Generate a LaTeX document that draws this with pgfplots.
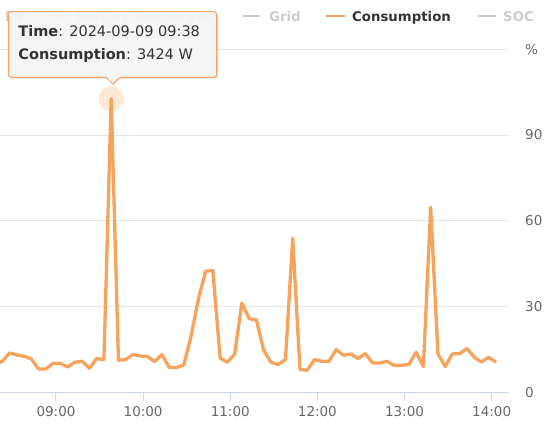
\documentclass[border=0pt]{standalone}
\usepackage{fontspec}
\setmainfont{DejaVu Sans}
\usepackage{pgfplots}
\usepackage{pgfplotstable}
\pgfplotsset{compat=1.18}

\definecolor{cons}{HTML}{F7A35C}
\definecolor{gridc}{HTML}{E6E6E6}
\definecolor{axisc}{HTML}{CCD6EB}
\definecolor{labelc}{HTML}{666666}
\definecolor{textc}{HTML}{333333}
\definecolor{hiddenc}{HTML}{CCCCCC}
\definecolor{tipbg}{HTML}{F7F7F7}

% consumption in W, t = minutes after 08:00 (5 min steps)
\pgfplotstableread{
t w
18 320
23 361
28 458
33 435
38 420
43 388
48 272
53 272
58 338
63 338
68 295
73 350
78 361
83 280
88 393
93 381
98 3424
103 373
108 381
113 440
118 423
123 416
128 358
133 440
138 288
143 288
148 318
153 650
158 1081
163 1411
168 1419
173 400
178 350
183 447
188 1041
193 859
198 843
203 490
208 350
213 323
218 381
223 1796
228 265
233 257
238 381
243 361
248 361
253 498
258 431
263 447
268 393
273 451
278 342
283 342
288 361
293 311
298 315
303 326
308 466
313 300
318 2157
323 447
328 300
333 447
338 451
343 510
348 408
353 353
358 408
363 350
}\consdata

\begin{document}
\begin{tikzpicture}[x=1pt,y=1pt]
\useasboundingbox (0,0) rectangle (558,427);
\clip (0,0) rectangle (558,427);
\begin{axis}[
  at={(0,40.5)}, anchor=south west,
  scale only axis, width=508.5pt, height=343pt,
  xmin=21.44, xmax=371.6, ymin=0, ymax=4000,
  axis x line=bottom, axis y line=right,
  x axis line style={draw=axisc, line width=1pt, -},
  y axis line style={draw=none},
  xtick={60,120,180,240,300,360},
  xticklabels={09:00,10:00,11:00,12:00,13:00,14:00},
  ytick={0,1000,2000,3000,4000},
  yticklabels={0,30,60,90,\%},
  tick align=outside, major tick length=9pt,
  xtick style={draw=axisc, line width=1pt},
  ytick style={draw=none},
  ymajorgrids, grid style={draw=gridc, line width=1pt},
  tick label style={font=\fontsize{13.5}{16}\selectfont, text=labelc, inner sep=0pt},
  xticklabel style={anchor=base, yshift=-15.3pt},
  yticklabel style={anchor=west, xshift=7.5pt},
]
\addplot[only marks, mark=*, mark size=12.5pt,
  mark options={draw opacity=0, fill=cons, fill opacity=0.25}] coordinates {(98,3424)};
\addplot[cons, line width=3.3pt, line join=round] table[x=t, y=w] {\consdata};
\end{axis}

% legend (hidden series greyed out)
\begin{scope}[font=\fontsize{13.3}{16}\selectfont\bfseries]
\draw[hiddenc, line width=2pt] (-26,411) -- (-8,411);
\node[anchor=base west, inner sep=0, text=hiddenc] at (5,405.7) {PV};
\draw[hiddenc, line width=2pt] (50,411) -- (68,411);
\node[anchor=base west, inner sep=0, text=hiddenc, font=\fontsize{12.6}{16}\selectfont\bfseries] at (76,405.7) {Battery Discharged};
\draw[hiddenc, line width=2pt] (243,411) -- (260,411);
\node[anchor=base west, inner sep=0, text=hiddenc] at (269,405.7) {Grid};
\draw[cons, line width=2pt] (326,411) -- (345,411);
\node[anchor=base west, inner sep=0, text=textc] at (352,405.7) {Consumption};
\draw[hiddenc, line width=2pt] (478,411) -- (496,411);
\node[anchor=base west, inner sep=0, text=hiddenc] at (503,405.7) {SOC};
\end{scope}

% tooltip
\fill[black, opacity=0.06] (10.3,347.7) -- (10.3,413.3) -- (218.7,413.3) -- (218.7,347.7) -- (121,347.7) -- (114.7,341) -- (108,347.7) -- cycle;
\fill[black, opacity=0.05] (9.3,348.7) -- (9.3,414.3) -- (217.7,414.3) -- (217.7,348.7) -- (120,348.7) -- (113.7,342) -- (107,348.7) -- cycle;
\draw[cons, line width=1pt, fill=tipbg, fill opacity=0.92, rounded corners=3pt]
  (8.3,349.7) -- (8.3,415.3) -- (216.7,415.3) -- (216.7,349.7) -- (119.5,349.7)
  [sharp corners] -- (112.7,343) -- (106,349.7) [rounded corners=3pt] -- cycle;
\begin{scope}[font=\fontsize{14.5}{17}\selectfont, text=textc]
\node[anchor=base west, inner sep=0] at (18.3,390.3) {\textbf{Time}: 2024-09-09 09:38};
\node[anchor=base west, inner sep=0] at (18.3,367.7) {\textbf{Consumption}: 3424 W};
\end{scope}
\end{tikzpicture}
\end{document}
